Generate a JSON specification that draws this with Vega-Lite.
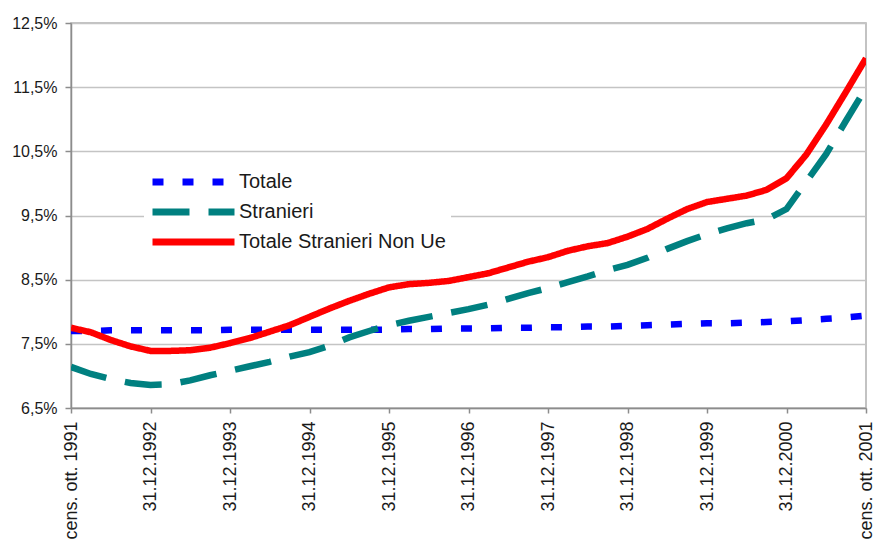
{
  "$schema": "https://vega.github.io/schema/vega-lite/v6.json",
  "width": 795,
  "height": 385,
  "autosize": {"type": "none"},
  "padding": {"left": 71, "top": 23, "right": 8, "bottom": 135},
  "background": "white",
  "config": {
    "view": {"stroke": "#b0b0b0", "strokeWidth": 1.5},
    "axis": {
      "labelFont": "Liberation Sans",
      "labelColor": "#1a1a1a",
      "domainColor": "#8c8c8c",
      "domainWidth": 1.5,
      "tickColor": "#8c8c8c",
      "tickWidth": 1.5,
      "title": null
    }
  },
  "data": {
    "values": [
      {"t": 0, "serie": "Totale", "v": 7.70},
      {"t": 0.25, "serie": "Totale", "v": 7.70},
      {"t": 0.5, "serie": "Totale", "v": 7.71},
      {"t": 0.75, "serie": "Totale", "v": 7.71},
      {"t": 1, "serie": "Totale", "v": 7.71},
      {"t": 1.25, "serie": "Totale", "v": 7.71},
      {"t": 1.5, "serie": "Totale", "v": 7.71},
      {"t": 1.75, "serie": "Totale", "v": 7.71},
      {"t": 2, "serie": "Totale", "v": 7.72},
      {"t": 2.25, "serie": "Totale", "v": 7.72},
      {"t": 2.5, "serie": "Totale", "v": 7.72},
      {"t": 2.75, "serie": "Totale", "v": 7.72},
      {"t": 3, "serie": "Totale", "v": 7.72},
      {"t": 3.25, "serie": "Totale", "v": 7.72},
      {"t": 3.5, "serie": "Totale", "v": 7.72},
      {"t": 3.75, "serie": "Totale", "v": 7.72},
      {"t": 4, "serie": "Totale", "v": 7.72},
      {"t": 4.25, "serie": "Totale", "v": 7.73},
      {"t": 4.5, "serie": "Totale", "v": 7.73},
      {"t": 4.75, "serie": "Totale", "v": 7.74},
      {"t": 5, "serie": "Totale", "v": 7.74},
      {"t": 5.25, "serie": "Totale", "v": 7.74},
      {"t": 5.5, "serie": "Totale", "v": 7.75},
      {"t": 5.75, "serie": "Totale", "v": 7.75},
      {"t": 6, "serie": "Totale", "v": 7.76},
      {"t": 6.25, "serie": "Totale", "v": 7.76},
      {"t": 6.5, "serie": "Totale", "v": 7.77},
      {"t": 6.75, "serie": "Totale", "v": 7.77},
      {"t": 7, "serie": "Totale", "v": 7.78},
      {"t": 7.25, "serie": "Totale", "v": 7.79},
      {"t": 7.5, "serie": "Totale", "v": 7.80},
      {"t": 7.75, "serie": "Totale", "v": 7.81},
      {"t": 8, "serie": "Totale", "v": 7.82},
      {"t": 8.25, "serie": "Totale", "v": 7.82},
      {"t": 8.5, "serie": "Totale", "v": 7.83},
      {"t": 8.75, "serie": "Totale", "v": 7.84},
      {"t": 9, "serie": "Totale", "v": 7.85},
      {"t": 9.25, "serie": "Totale", "v": 7.87},
      {"t": 9.5, "serie": "Totale", "v": 7.89},
      {"t": 9.75, "serie": "Totale", "v": 7.91},
      {"t": 10, "serie": "Totale", "v": 7.94},

      {"t": 0, "serie": "Stranieri", "v": 7.14},
      {"t": 0.25, "serie": "Stranieri", "v": 7.03},
      {"t": 0.5, "serie": "Stranieri", "v": 6.95},
      {"t": 0.75, "serie": "Stranieri", "v": 6.89},
      {"t": 1, "serie": "Stranieri", "v": 6.86},
      {"t": 1.25, "serie": "Stranieri", "v": 6.87},
      {"t": 1.5, "serie": "Stranieri", "v": 6.93},
      {"t": 1.75, "serie": "Stranieri", "v": 7.01},
      {"t": 2, "serie": "Stranieri", "v": 7.08},
      {"t": 2.25, "serie": "Stranieri", "v": 7.15},
      {"t": 2.5, "serie": "Stranieri", "v": 7.22},
      {"t": 2.75, "serie": "Stranieri", "v": 7.30},
      {"t": 3, "serie": "Stranieri", "v": 7.37},
      {"t": 3.25, "serie": "Stranieri", "v": 7.47},
      {"t": 3.5, "serie": "Stranieri", "v": 7.60},
      {"t": 3.75, "serie": "Stranieri", "v": 7.70},
      {"t": 4, "serie": "Stranieri", "v": 7.79},
      {"t": 4.25, "serie": "Stranieri", "v": 7.86},
      {"t": 4.5, "serie": "Stranieri", "v": 7.92},
      {"t": 4.75, "serie": "Stranieri", "v": 7.98},
      {"t": 5, "serie": "Stranieri", "v": 8.04},
      {"t": 5.25, "serie": "Stranieri", "v": 8.11},
      {"t": 5.5, "serie": "Stranieri", "v": 8.20},
      {"t": 5.75, "serie": "Stranieri", "v": 8.29},
      {"t": 6, "serie": "Stranieri", "v": 8.37},
      {"t": 6.25, "serie": "Stranieri", "v": 8.46},
      {"t": 6.5, "serie": "Stranieri", "v": 8.55},
      {"t": 6.75, "serie": "Stranieri", "v": 8.65},
      {"t": 7, "serie": "Stranieri", "v": 8.73},
      {"t": 7.25, "serie": "Stranieri", "v": 8.84},
      {"t": 7.5, "serie": "Stranieri", "v": 8.98},
      {"t": 7.75, "serie": "Stranieri", "v": 9.10},
      {"t": 8, "serie": "Stranieri", "v": 9.21},
      {"t": 8.25, "serie": "Stranieri", "v": 9.30},
      {"t": 8.5, "serie": "Stranieri", "v": 9.38},
      {"t": 8.75, "serie": "Stranieri", "v": 9.44},
      {"t": 9, "serie": "Stranieri", "v": 9.60},
      {"t": 9.25, "serie": "Stranieri", "v": 10.03},
      {"t": 9.5, "serie": "Stranieri", "v": 10.46},
      {"t": 9.75, "serie": "Stranieri", "v": 10.98},
      {"t": 10, "serie": "Stranieri", "v": 11.49},

      {"t": 0, "serie": "Totale Stranieri Non Ue", "v": 7.75},
      {"t": 0.25, "serie": "Totale Stranieri Non Ue", "v": 7.68},
      {"t": 0.5, "serie": "Totale Stranieri Non Ue", "v": 7.56},
      {"t": 0.75, "serie": "Totale Stranieri Non Ue", "v": 7.46},
      {"t": 1, "serie": "Totale Stranieri Non Ue", "v": 7.39},
      {"t": 1.25, "serie": "Totale Stranieri Non Ue", "v": 7.39},
      {"t": 1.5, "serie": "Totale Stranieri Non Ue", "v": 7.40},
      {"t": 1.75, "serie": "Totale Stranieri Non Ue", "v": 7.44},
      {"t": 2, "serie": "Totale Stranieri Non Ue", "v": 7.51},
      {"t": 2.25, "serie": "Totale Stranieri Non Ue", "v": 7.59},
      {"t": 2.5, "serie": "Totale Stranieri Non Ue", "v": 7.69},
      {"t": 2.75, "serie": "Totale Stranieri Non Ue", "v": 7.79},
      {"t": 3, "serie": "Totale Stranieri Non Ue", "v": 7.92},
      {"t": 3.25, "serie": "Totale Stranieri Non Ue", "v": 8.05},
      {"t": 3.5, "serie": "Totale Stranieri Non Ue", "v": 8.17},
      {"t": 3.75, "serie": "Totale Stranieri Non Ue", "v": 8.28},
      {"t": 4, "serie": "Totale Stranieri Non Ue", "v": 8.38},
      {"t": 4.25, "serie": "Totale Stranieri Non Ue", "v": 8.43},
      {"t": 4.5, "serie": "Totale Stranieri Non Ue", "v": 8.45},
      {"t": 4.75, "serie": "Totale Stranieri Non Ue", "v": 8.48},
      {"t": 5, "serie": "Totale Stranieri Non Ue", "v": 8.54},
      {"t": 5.25, "serie": "Totale Stranieri Non Ue", "v": 8.60},
      {"t": 5.5, "serie": "Totale Stranieri Non Ue", "v": 8.69},
      {"t": 5.75, "serie": "Totale Stranieri Non Ue", "v": 8.78},
      {"t": 6, "serie": "Totale Stranieri Non Ue", "v": 8.85},
      {"t": 6.25, "serie": "Totale Stranieri Non Ue", "v": 8.95},
      {"t": 6.5, "serie": "Totale Stranieri Non Ue", "v": 9.02},
      {"t": 6.75, "serie": "Totale Stranieri Non Ue", "v": 9.07},
      {"t": 7, "serie": "Totale Stranieri Non Ue", "v": 9.17},
      {"t": 7.25, "serie": "Totale Stranieri Non Ue", "v": 9.29},
      {"t": 7.5, "serie": "Totale Stranieri Non Ue", "v": 9.45},
      {"t": 7.75, "serie": "Totale Stranieri Non Ue", "v": 9.60},
      {"t": 8, "serie": "Totale Stranieri Non Ue", "v": 9.71},
      {"t": 8.25, "serie": "Totale Stranieri Non Ue", "v": 9.76},
      {"t": 8.5, "serie": "Totale Stranieri Non Ue", "v": 9.81},
      {"t": 8.75, "serie": "Totale Stranieri Non Ue", "v": 9.90},
      {"t": 9, "serie": "Totale Stranieri Non Ue", "v": 10.08},
      {"t": 9.25, "serie": "Totale Stranieri Non Ue", "v": 10.45},
      {"t": 9.5, "serie": "Totale Stranieri Non Ue", "v": 10.92},
      {"t": 9.75, "serie": "Totale Stranieri Non Ue", "v": 11.43},
      {"t": 10, "serie": "Totale Stranieri Non Ue", "v": 11.95}
    ]
  },
  "mark": {"type": "line", "strokeWidth": 6.5, "clip": true},
  "encoding": {
    "x": {
      "field": "t",
      "type": "quantitative",
      "scale": {"domain": [0, 10], "nice": false, "zero": false},
      "axis": {
        "values": [0, 1, 2, 3, 4, 5, 6, 7, 8, 9, 10],
        "labelExpr": "['cens. ott. 1991','31.12.1992','31.12.1993','31.12.1994','31.12.1995','31.12.1996','31.12.1997','31.12.1998','31.12.1999','31.12.2000','cens. ott. 2001'][datum.value]",
        "labelAngle": -90,
        "labelFontSize": 18,
        "labelPadding": 8,
        "tickSize": 5,
        "grid": false,
        "labelOverlap": false,
        "labelBound": false,
        "labelFlush": false
      }
    },
    "y": {
      "field": "v",
      "type": "quantitative",
      "scale": {"domain": [6.5, 12.5], "nice": false, "zero": false},
      "axis": {
        "values": [6.5, 7.5, 8.5, 9.5, 10.5, 11.5, 12.5],
        "labelExpr": "replace(format(datum.value, '.1f'), '.', ',') + '%'",
        "labelFontSize": 16,
        "labelPadding": 8,
        "tickSize": 6,
        "grid": true,
        "gridColor": "#c4c4c4",
        "gridWidth": 1.3,
        "labelFlush": false
      }
    },
    "color": {
      "field": "serie",
      "type": "nominal",
      "scale": {
        "domain": ["Totale", "Stranieri", "Totale Stranieri Non Ue"],
        "range": ["#0000ff", "#008080", "#ff0000"]
      },
      "legend": {
        "title": null,
        "orient": "none",
        "legendX": 73,
        "legendY": 144,
        "fillColor": "white",
        "padding": 5,
        "symbolType": "stroke",
        "symbolSize": 6724,
        "symbolStrokeWidth": 7,
        "clipHeight": 20,
        "labelFont": "Liberation Sans",
        "labelFontSize": 20,
        "labelColor": "#1a1a1a",
        "labelOffset": 1,
        "rowPadding": 10,
        "labelLimit": 400
      }
    },
    "strokeDash": {
      "field": "serie",
      "type": "nominal",
      "scale": {
        "domain": ["Totale", "Stranieri", "Totale Stranieri Non Ue"],
        "range": [[11, 19], [37, 19], [1, 0]]
      },
      "legend": null
    },
    "order": {"field": "t"}
  }
}
